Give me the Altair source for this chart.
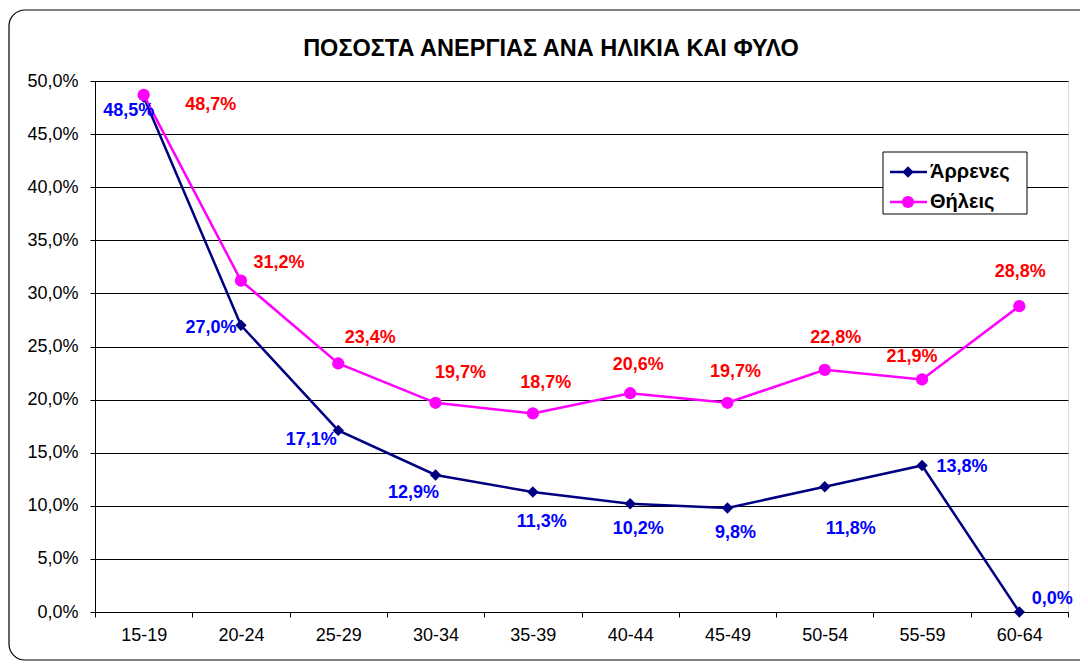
import altair as alt
import pandas as pd

categories = ["15-19", "20-24", "25-29", "30-34", "35-39", "40-44", "45-49", "50-54", "55-59", "60-64"]
series_names = ["Άρρενες", "Θήλεις"]
males = [48.5, 27.0, 17.1, 12.9, 11.3, 10.2, 9.8, 11.8, 13.8, 0.0]
females = [48.7, 31.2, 23.4, 19.7, 18.7, 20.6, 19.7, 22.8, 21.9, 28.8]
y_ticks = [0, 5, 10, 15, 20, 25, 30, 35, 40, 45, 50]
title_text = "ΠΟΣΟΣΤΑ ΑΝΕΡΓΙΑΣ ΑΝΑ ΗΛΙΚΙΑ ΚΑΙ ΦΥΛΟ"

# label offsets (pixels) as placed in the original chart
male_label_dx = [-15, -30, -27, -22, 9, 8, 8, 26, 40, 33]
male_label_dy = [14, 3, 10, 18, 30, 25, 25, 42, 2, -13]
female_label_dx = [67, 38, 32, 25, 13, 8, 8, 11, -10, 1]
female_label_dy = [10, -18, -25, -30, -30, -28, -31, -32, -22, -34]

line_colors = ["#000080", "#FF00FF"]
label_colors = ["#0000FF", "#FF0000"]
marker_shapes = ["diamond", "circle"]
marker_sizes = [130, 150]
FONT = "Liberation Sans, Arial, sans-serif"

W, H = 973, 531
YMAX = 50
BAND = W / len(categories)

rows = []
for i, c in enumerate(categories):
    rows.append({"age": c, "series": series_names[0], "v": males[i],
                 "dx": male_label_dx[i], "dy": male_label_dy[i], "lc": label_colors[0]})
for i, c in enumerate(categories):
    rows.append({"age": c, "series": series_names[1], "v": females[i],
                 "dx": female_label_dx[i], "dy": female_label_dy[i], "lc": label_colors[1]})
df = pd.DataFrame(rows)

x_scale = alt.Scale(type="band", paddingInner=0, paddingOuter=0)
x_axis = alt.Axis(title=None, labelAngle=0, tickBand="extent", tickSize=5,
                  tickColor="black", domainColor="black", labelFontSize=18,
                  labelPadding=9, labelColor="black", labelFont=FONT, grid=False)
x_enc = alt.X("age:N", sort=categories, bandPosition=0.5, scale=x_scale, axis=x_axis)
y_scale = alt.Scale(domain=[0, YMAX], nice=False)
y_enc = alt.Y("v:Q", scale=y_scale,
              axis=alt.Axis(title=None, values=y_ticks, tickSize=5, tickColor="black",
                            domainColor="black", gridColor="black", gridWidth=1,
                            labelFontSize=18, labelPadding=12, labelColor="black", labelFont=FONT,
                            labelExpr="replace(format(datum.value, '.1f'), '.', ',') + '%'"))

color_scale = alt.Scale(domain=series_names, range=line_colors)

base = alt.Chart(df)

lines = base.mark_line(strokeWidth=2.5).encode(
    x=x_enc, y=y_enc,
    color=alt.Color("series:N", scale=color_scale, legend=None),
    detail="series:N",
)

points = base.mark_point(filled=True, opacity=1).encode(
    x=x_enc, y=y_enc,
    color=alt.Color("series:N", scale=color_scale, legend=None),
    shape=alt.Shape("series:N", scale=alt.Scale(domain=series_names, range=marker_shapes), legend=None),
    size=alt.Size("series:N", scale=alt.Scale(domain=series_names, range=marker_sizes), legend=None),
)

labels = base.transform_calculate(
    label="replace(format(datum.v, '.1f'), '.', ',') + '%'",
    ly=f"datum.v - datum.dy * {YMAX} / {H}",
    lx=f"datum.dx + {BAND / 2}",
).mark_text(font=FONT, fontSize=18, fontWeight="bold").encode(
    x=alt.X("age:N", sort=categories, scale=x_scale, axis=x_axis),
    y=alt.Y("ly:Q", scale=y_scale),
    xOffset=alt.XOffset("lx:Q", scale=None),
    text="label:N",
    color=alt.Color("lc:N", scale=None, legend=None),
)

# outer rounded frame of the chart (its right edge runs past the picture)
frame = alt.Chart(alt.Data(values=[{}])).mark_rect(
    fill="transparent", stroke="black", strokeWidth=1.2, cornerRadius=16
).encode(x=alt.value(-86), x2=alt.value(1010), y=alt.value(-71), y2=alt.value(579))

title = alt.Chart(alt.Data(values=[{"t": title_text}])).mark_text(
    font=FONT, fontSize=23.5, fontWeight="bold", color="black", baseline="alphabetic", align="center"
).encode(x=alt.value(456), y=alt.value(-25), text="t:N")

# legend box
legend_box = alt.Chart(alt.Data(values=[{}])).mark_rect(
    fill="white", stroke="black", strokeWidth=1
).encode(x=alt.value(788), x2=alt.value(932), y=alt.value(71), y2=alt.value(133))

legend_layers = []
legend_rows_y = [91, 121]
for i, name in enumerate(series_names):
    d = alt.Data(values=[{"s": name}])
    yv = legend_rows_y[i]
    legend_layers.append(alt.Chart(d).mark_rule(color=line_colors[i], strokeWidth=2.5).encode(
        x=alt.value(795), x2=alt.value(832), y=alt.value(yv)))
    legend_layers.append(alt.Chart(d).mark_point(
        filled=True, opacity=1, shape=marker_shapes[i], size=marker_sizes[i], color=line_colors[i]
    ).encode(x=alt.value(813), y=alt.value(yv)))
    legend_layers.append(alt.Chart(d).mark_text(
        font=FONT, fontSize=20, fontWeight="bold", color="black", align="left", baseline="middle"
    ).encode(x=alt.value(835), y=alt.value(yv), text="s:N"))

chart = alt.layer(frame, title, lines, points, labels, legend_box, *legend_layers).properties(
    width=W, height=H,
    autosize=alt.AutoSizeParams(type="none"),
    padding={"left": 87, "top": 73, "right": 12, "bottom": 50},
).configure_view(
    fill="#C0C0C0", stroke="#808080", strokeWidth=1
).configure(background="white")

chart.save("out.html", embed_options={"renderer": "svg", "actions": False})
